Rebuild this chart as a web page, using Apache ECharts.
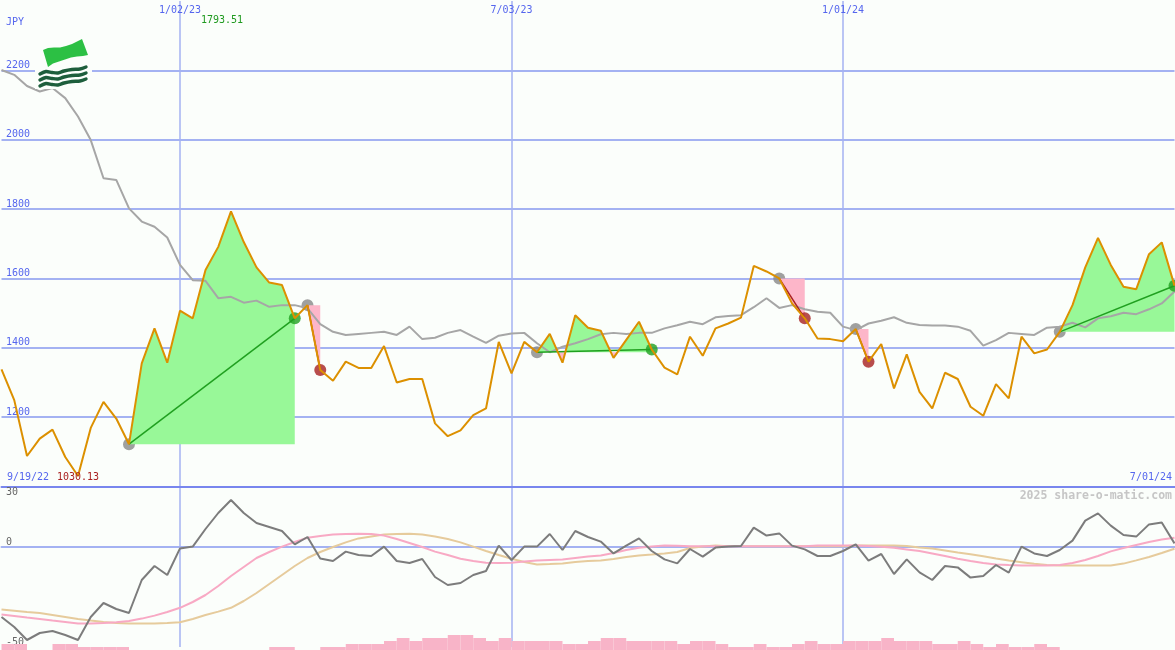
<!DOCTYPE html>
<html><head><meta charset="utf-8">
<script src="https://cdn.jsdelivr.net/npm/echarts@6/dist/echarts.min.js"></script>
<style>html,body{margin:0;padding:0;background:#fbfefb}#c{width:1175px;height:650px}</style>
</head><body><div id="c"></div>
<script>
// ---- data ----
const firstWeek = [2022, 8, 26];           // first weekly point (UTC y, m0, d)
const windowStartLabel = '9/19/22';
const currency = 'JPY';
const gridDates = ['1/02/23', '7/03/23', '1/01/24'];
const watermark = '2025 share-o-matic.com';

const price = [1338,1249,1088,1138,1164,1085,1030.13,1169,1244,1196,1122,1355,1456,1357,1507,1485,1624,1691,1793.51,1705,
  1632,1588,1581,1485,1523,1336,1305,1360,1342,1342,1405,1300,1310,1310,1182,1145,1162,1206,1225,1417,
  1326,1417,1387,1440,1357,1494,1458,1449,1371,1423,1475,1395,1343,1323,1432,1377,1456,1470,1487,1636,
  1620,1600,1528,1485,1427,1425,1419,1454,1360,1411,1283,1381,1273,1225,1328,1310,1230,1204,1295,1254,
  1432,1384,1395,1446,1523,1632,1717,1639,1576,1569,1670,1704,1579];

const movingAvg = [2201,2187,2155,2139,2149,2120,2067,1999,1889,1884,1802,1764,1749,1718,1639,1595,1593,1543,1547,1530,
  1536,1518,1523,1523,1514,1468,1446,1437,1440,1443,1446,1437,1461,1425,1429,1443,1451,1432,1414,1435,
  1441,1443,1413,1387,1403,1413,1425,1439,1443,1440,1443,1443,1456,1465,1475,1468,1488,1492,1494,1517,
  1543,1515,1523,1511,1504,1501,1461,1451,1470,1478,1488,1472,1466,1464,1464,1461,1449,1406,1422,1443,
  1440,1437,1458,1461,1472,1459,1485,1491,1501,1497,1511,1528,1562];

const momentum = [-35,-40,-46.5,-43,-42,-44,-46.5,-35,-28,-31,-33,-16.5,-9.5,-14,-0.7,0.2,9,17,23.5,17,
  12,10,8,1.3,5,-5.7,-7,-2.3,-4,-4.5,0.2,-7,-8,-6,-15,-19,-18,-14,-12,0.7,
  -6.5,0.2,0.2,6.5,-1.5,8,5,2.7,-3.2,0.7,4.3,-2,-6.2,-8.2,-1,-4.8,-0.3,0.2,0.5,9.7,
  5.7,6.8,0.7,-1.2,-4.5,-4.5,-2,1.3,-6.8,-3.5,-13.5,-6.2,-12.7,-16.5,-9.5,-10.2,-15.3,-14.5,-9,-12.8,
  0.2,-3.2,-4.5,-1.5,3.2,13.2,16.8,10.7,6,5.2,11.3,12.3,1.8];

const signalFast = [-33.8,-34.5,-35.3,-36,-36.8,-37.5,-38.2,-38.2,-38,-37.6,-37,-35.8,-34.3,-32.5,-30.4,-27.5,-24,-19.5,-14.5,-10,
  -5.5,-2.5,0.2,2.5,4.6,5.5,6.2,6.5,6.6,6.5,5.7,4,2,0,-2.3,-4,-5.9,-7,-7.9,-8,
  -7.9,-7.3,-6.8,-6.5,-6.2,-5.5,-4.8,-4.3,-3,-1.5,-0.4,0.3,0.7,0.6,0.4,0.4,0.4,0.4,0.4,0.4,
  0.4,0.4,0.4,0.4,0.7,0.7,0.7,0.7,0.5,0.1,-0.4,-1.2,-2,-3.2,-4.5,-5.9,-7,-8,-8.7,-9,
  -9.25,-9.25,-9.25,-9,-8,-6.5,-4.5,-2.2,-0.5,1,2.5,3.7,4.6];

const signalSlow = [-31.3,-31.9,-32.5,-33,-34,-35,-36,-36.8,-37.5,-38,-38.2,-38.3,-38.2,-38,-37.6,-36,-34,-32.3,-30.4,-27,
  -23,-18.5,-14,-9.5,-5.5,-2.5,0,2.3,4.3,5.3,6.2,6.5,6.6,6.2,5.3,4,2.3,0.2,-2,-4,
  -5.9,-7.5,-8.7,-8.5,-8.2,-7.5,-7,-6.7,-6,-5,-4.2,-3.8,-3.3,-2.5,-0.5,0.3,0.7,0.4,0.4,0.4,
  0.4,0.4,0.4,0.4,0.4,0.4,0.4,0.8,0.8,0.8,0.8,0.5,-0.2,-0.8,-1.7,-2.7,-3.6,-4.6,-5.8,-6.8,
  -7.6,-8.4,-9,-9.25,-9.25,-9.25,-9.25,-9.25,-8.3,-6.7,-5,-3,-0.9];

const volume = [2,2,0,0,2,2,1,1,1,1, 0,0,0,0,0,0,0,0,0,0,0,
  1,1,0,0,1,1,2,2,2,3,4,3,4,4,5,5,4,3,4,3,3,3,3,2,2,3,4,4,3,3,3,3,2,3,3,2,1,1,2,1,1,2,3,2,2,3,3,3,4,3,3,3,2,2,3,2,1,2,1,1,2,1,
  0,0,0,0,0,0,0,0,0];

const tradeEntries = [10, 24, 42, 61, 67, 83];
const tradeExits   = [23, 25, 51, 63, 68, 92];

// ---- derived ----
const dates = price.map((_, i) => {
  const d = new Date(Date.UTC(firstWeek[0], firstWeek[1], firstWeek[2]) + i * 7 * 864e5);
  return (d.getUTCMonth() + 1) + '/' + String(d.getUTCDate()).padStart(2, '0') + '/' + String(d.getUTCFullYear()).slice(2);
});
const showDate = (i, v) => gridDates.indexOf(v) >= 0;

const FONT = "'DejaVu Sans Mono', monospace";
const BLUE = '#5566ee';
const GRIDC = '#a4b2f2';
const UP = '#20a020', DOWN = '#a82020';

const chart = echarts.init(document.getElementById('c'), null, {renderer: 'canvas'});

function fillRender(params, api) {
  const t = params.dataIndex;
  const a = tradeEntries[t], b = tradeExits[t], E = price[a];
  const start = api.coord([a, E]), end = api.coord([b, E]);
  const up = [start], dn = [start];
  for (let i = a; i <= b; i++) {
    const p = price[i];
    const c = api.coord([i, p]);
    const base = api.coord([i, E]);
    if (i > a) {
      const q = price[i - 1];
      if ((q - E) * (p - E) < 0) {
        const c0 = api.coord([i - 1, q]);
        const f = (E - q) / (p - q);
        const cx = c0[0] + (c[0] - c0[0]) * f, cy = c0[1] + (c[1] - c0[1]) * f;
        up.push([cx, cy]); dn.push([cx, cy]);
      }
    }
    up.push([c[0], Math.min(c[1], base[1])]);
    dn.push([c[0], Math.max(c[1], base[1])]);
  }
  up.push(end); dn.push(end);
  return {type: 'group', children: [
    {type: 'polygon', shape: {points: up}, style: {fill: '#98f898'}},
    {type: 'polygon', shape: {points: dn}, style: {fill: '#fdb6c9'}}
  ]};
}
function tradeLineRender(params, api) {
  const t = params.dataIndex;
  const a = tradeEntries[t], b = tradeExits[t];
  const p0 = api.coord([a, price[a]]), p1 = api.coord([b, price[b]]);
  return {type: 'line', shape: {x1: p0[0], y1: p0[1], x2: p1[0], y2: p1[1]},
    style: {stroke: price[b] >= price[a] ? UP : DOWN, lineWidth: 1.5}};
}

function stripe(dy) {
  return {type: 'polyline', z: 101, shape: {points: [[40, 74 + dy], [46, 71.5 + dy], [52, 72.5 + dy], [58, 73 + dy], [64, 71 + dy], [72, 69.5 + dy], [80, 69 + dy], [86, 67 + dy]], smooth: 0.3},
    style: {stroke: '#1d5e3c', lineWidth: 3.4, fill: null, lineCap: 'round'}};
}
const logo = {
  type: 'group', z: 100, children: [
    {type: 'rect', z: 100, shape: {x: 35, y: 35, width: 57, height: 54}, style: {fill: '#fbfefb'}},
    {type: 'polygon', z: 101, shape: {points: [[43, 50], [48, 48], [54, 47.5], [60, 47.5], [66, 46], [72, 44], [77, 41.5], [82, 39],
      [88, 55], [83, 56], [77, 56.5], [71, 57.5], [65, 59.5], [59, 61.5], [53, 63.5], [48, 67]]},
      style: {fill: '#2cc044'}},
    stripe(0), stripe(6), stripe(12)
  ]
};

const baseGraphics = [
  logo,
  {type: 'text', right: 3, top: 490, z: 100, style: {text: watermark, font: 'bold 11.5px ' + FONT, fill: '#c6c6c6'}},
  {type: 'text', left: 7, top: 472, z: 100, style: {text: windowStartLabel, font: '10px ' + FONT, fill: BLUE}},
  {type: 'text', right: 3, top: 472, z: 100, style: {text: dates[dates.length - 1], font: '10px ' + FONT, fill: BLUE}}
];

const option = {
  animation: false,
  backgroundColor: '#fbfefb',
  grid: [
    {left: 1.5, width: 1173, top: 1, height: 485.5},
    {left: 1.5, width: 1173, top: 487, height: 160},
    {left: 1.5, width: 1173, top: 615, height: 35}
  ],
  xAxis: [
    {type: 'category', gridIndex: 0, data: dates, position: 'top', boundaryGap: false,
      axisLine: {show: false}, axisTick: {show: false},
      axisLabel: {inside: true, interval: showDate, color: BLUE, fontSize: 10, fontFamily: FONT, margin: 4},
      splitLine: {show: true, interval: showDate, lineStyle: {color: GRIDC, width: 1.5}}},
    {type: 'category', gridIndex: 0, data: dates, position: 'bottom', boundaryGap: false,
      axisLine: {show: true, onZero: false, lineStyle: {color: '#7886ee', width: 2}},
      axisTick: {show: false}, axisLabel: {show: false}, splitLine: {show: false}},
    {type: 'category', gridIndex: 1, data: dates, boundaryGap: false,
      axisLine: {show: true, onZero: true, lineStyle: {color: GRIDC, width: 2}},
      axisTick: {show: false}, axisLabel: {show: false},
      splitLine: {show: true, interval: showDate, lineStyle: {color: GRIDC, width: 1.5}}},
    {type: 'category', gridIndex: 2, data: dates.slice(0, volume.length), boundaryGap: true,
      axisLine: {show: false}, axisTick: {show: false}, axisLabel: {show: false}, splitLine: {show: false}}
  ],
  yAxis: [
    {type: 'value', gridIndex: 0, min: 1000, max: 2400, interval: 200,
      axisLine: {show: false}, axisTick: {show: false},
      axisLabel: {inside: true, margin: 4.5, verticalAlign: 'bottom', color: BLUE, fontSize: 10, fontFamily: FONT,
        formatter: v => (v === 1000 || v === 2400) ? '' : String(v)},
      splitLine: {show: true, showMinLine: false, showMaxLine: false, lineStyle: {color: GRIDC, width: 2}},
      name: currency, nameLocation: 'end', nameGap: -26,
      nameTextStyle: {align: 'left', verticalAlign: 'bottom', padding: [0, 0, 0, 4.5], color: BLUE, fontSize: 10, fontFamily: FONT}},
    {type: 'value', gridIndex: 1, min: -50, max: 30, interval: 10,
      axisLine: {show: false}, axisTick: {show: false}, splitLine: {show: false},
      axisLabel: {inside: true, margin: 4.5, verticalAlign: 'bottom', verticalAlignMaxLabel: 'top', color: '#666666', fontSize: 10, fontFamily: FONT,
        formatter: v => (v === 30 || v === 0 || v === -50) ? String(v) : ''}},
    {type: 'value', gridIndex: 2, min: 0, max: 35 / 3, show: false}
  ],
  series: [
    {type: 'scatter', name: 'entry', xAxisIndex: 0, yAxisIndex: 0, z: 3, symbolSize: 12,
      itemStyle: {color: '#888888'}, data: tradeEntries.map(i => [i, price[i]])},
    {type: 'custom', name: 'fills', xAxisIndex: 0, yAxisIndex: 0, z: 4, renderItem: fillRender,
      encode: {x: [0, 1], y: 2}, data: tradeEntries.map((a, t) => [a, tradeExits[t], price[a]])},
    {type: 'line', name: 'ma', xAxisIndex: 0, yAxisIndex: 0, z: 5, data: movingAvg, symbol: 'none',
      lineStyle: {color: '#a6a6a6', width: 2}},
    {type: 'scatter', name: 'exit', xAxisIndex: 0, yAxisIndex: 0, z: 6, symbolSize: 12,
      data: tradeExits.map((b, t) => ({value: [b, price[b]], itemStyle: {color: price[b] >= price[tradeEntries[t]] ? UP : DOWN}}))},
    {type: 'custom', name: 'tradeLines', xAxisIndex: 0, yAxisIndex: 0, z: 7, renderItem: tradeLineRender,
      encode: {x: [0, 1], y: 2}, data: tradeEntries.map((a, t) => [a, tradeExits[t], price[a]])},
    {type: 'line', name: 'price', xAxisIndex: 0, yAxisIndex: 0, z: 8, data: price, symbol: 'none',
      lineStyle: {color: '#dc9000', width: 2}},
    {type: 'bar', name: 'volume', xAxisIndex: 3, yAxisIndex: 2, data: volume, barCategoryGap: '0%',
      itemStyle: {color: '#f8b4c8'}},
    {type: 'line', name: 'slow', xAxisIndex: 2, yAxisIndex: 1, data: signalSlow, symbol: 'none', z: 3,
      lineStyle: {color: '#e6cb9c', width: 2}},
    {type: 'line', name: 'fast', xAxisIndex: 2, yAxisIndex: 1, data: signalFast, symbol: 'none', z: 4,
      lineStyle: {color: '#f8a9c4', width: 2}},
    {type: 'line', name: 'momentum', xAxisIndex: 2, yAxisIndex: 1, data: momentum, symbol: 'none', z: 5,
      lineStyle: {color: '#7c7c7c', width: 2}}
  ],
  graphic: baseGraphics
};
chart.setOption(option);

// high / low annotations positioned through the axes
const maxV = Math.max(...price), minV = Math.min(...price);
const maxIdx = price.indexOf(maxV), minIdx = price.indexOf(minV);
const pHi = chart.convertToPixel({xAxisIndex: 0, yAxisIndex: 0}, [maxIdx, maxV]);
const pLo = chart.convertToPixel({xAxisIndex: 0, yAxisIndex: 0}, [minIdx, minV]);
chart.setOption({graphic: baseGraphics.concat([
  {type: 'text', x: pHi[0] - 9, y: 15, z: 100, style: {text: maxV.toFixed(2), font: '10px ' + FONT, fill: '#1f9a1f', align: 'center', verticalAlign: 'top'}},
  {type: 'text', x: pLo[0], y: 472, z: 100, style: {text: minV.toFixed(2), font: '10px ' + FONT, fill: '#aa2222', align: 'center', verticalAlign: 'top'}}
])});
</script>
</body></html>
